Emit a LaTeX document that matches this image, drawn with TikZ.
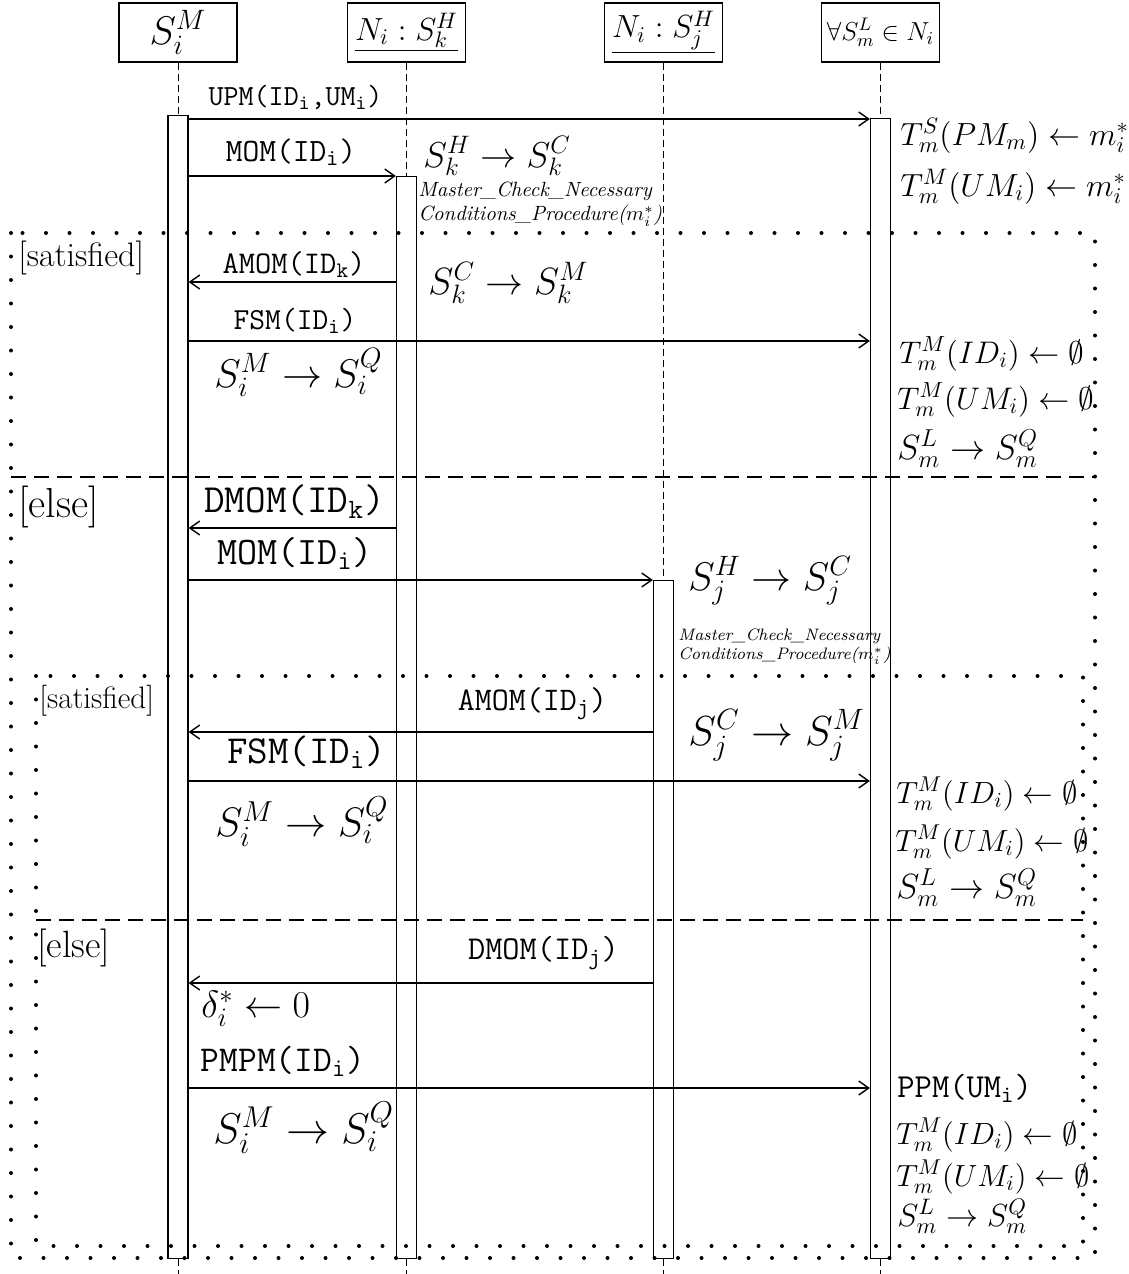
\RequirePackage{fix-cm}
\documentclass[tikz,border=0pt]{standalone}
\usetikzlibrary{arrows.meta}
\newcommand{\fsz}[1]{\fontsize{#1}{#1}\selectfont}

\begin{document}
\begin{tikzpicture}[x=0.5pt, y=-0.5pt,
  hdr/.style={draw, line width=0.6pt, minimum width=59pt, minimum height=29.5pt, inner sep=0pt},
  act/.style={draw, line width=0.6pt, minimum width=10pt, inner sep=0pt, anchor=north},
  life/.style={line width=0.5pt, dash pattern=on 3.5pt off 2pt},
  msg/.style={line width=0.7pt, -{Straight Barb[length=5pt,width=7pt]}},
  msglbl/.style={anchor=base, inner sep=0pt, font=\fsz{#1}\ttfamily},
  note/.style={anchor=base west, inner sep=0pt, font=\fsz{#1}},
  ttnote/.style={anchor=base west, inner sep=0pt, font=\fsz{#1}\ttfamily},
  proc/.style={anchor=north west, inner sep=0pt, align=left},
  frame/.style={line width=2pt, line cap=round, dash pattern=on 0pt off 11.75pt},
  sep/.style={line width=0.6pt, dash pattern=on 7.5pt off 4pt}]
\fill[white] (0,0) rectangle (1129,1274);
\useasboundingbox (0,0) rectangle (1129,1274);
\coordinate (bottom) at (0,1274);

% participants
\node[hdr] (pSi) at (178,32.5) {\fsz{20}$S_i^M$};
\node[hdr] (pSk) at (406.5,32.5) {\fsz{16}$\underline{N_i : S_k^H}$};
\node[hdr] (pSj) at (663.5,32.5) {\fsz{16}$\underline{N_i : S_j^H}$};
\node[hdr] (pSm) at (880.5,32.5) {\fsz{13}$\forall S_m^L \in N_i$};

% activations
\node[act, minimum height=571.5pt] (actSi) at (178,115) {};
\node[act, minimum height=541pt] (actSk) at (406.5,176) {};
\node[act, minimum height=339pt] (actSj) at (663.5,580) {};
\node[act, minimum height=570pt] (actSm) at (880.5,118) {};

\foreach \p/\a in {pSi/actSi,pSk/actSk,pSj/actSj,pSm/actSm}{
  \draw[life] (\p.south) -- (\a.north);
  \draw[life] (\a.south) -- (\a.south |- bottom);
}

% alt frames
\coordinate (outerNW) at (11,233);
\coordinate (outerSE) at (1095,1258);
\coordinate (innerNW) at (36,676);
\coordinate (innerSE) at (1083,1246);
\draw[frame] (outerNW) rectangle (outerSE);
\draw[sep] (outerNW |- 0,477) -- (outerSE |- 0,477);
\draw[frame] (innerNW) rectangle (innerSE);
\draw[sep] (innerNW |- 0,920) -- (innerSE |- 0,920);

\node[note=17] (gSat1) at (18,266) {[satisfied]};
\node[note=21] (gElse1) at (18,517) {[else]};
\node[note=15.5] (gSat2) at (39,708) {[satisfied]};
\node[note=19] (gElse2) at (37,957) {[else]};

% messages
\draw[msg] (actSi.east |- 0,119) -- (actSm.west |- 0,119);
\node[msglbl=14.6] (lUPM) at (295.5,105) {UPM(ID$_\mathtt{i}$,UM$_\mathtt{i}$)};
\draw[msg] (actSi.east |- 0,176) -- (actSk.west |- 0,176);
\node[msglbl=16.3] (lMOM1) at (291,161) {MOM(ID$_\mathtt{i}$)};
\draw[msg] (actSk.west |- 0,282) -- (actSi.east |- 0,282);
\node[msglbl=15.8] (lAMOMk) at (294,273) {AMOM(ID$_\mathtt{k}$)};
\draw[msg] (actSi.east |- 0,341) -- (actSm.west |- 0,341);
\node[msglbl=15.3] (lFSM1) at (295,329) {FSM(ID$_\mathtt{i}$)};
\draw[msg] (actSk.west |- 0,528) -- (actSi.east |- 0,528);
\node[msglbl=20] (lDMOMk) at (294.5,512) {DMOM(ID$_\mathtt{k}$)};
\draw[msg] (actSi.east |- 0,580) -- (actSj.west |- 0,580);
\node[msglbl=19.5] (lMOM2) at (295,564) {MOM(ID$_\mathtt{i}$)};
\draw[msg] (actSj.west |- 0,732) -- (actSi.east |- 0,732);
\node[msglbl=16.5] (lAMOMj) at (532.5,710) {AMOM(ID$_\mathtt{j}$)};
\draw[msg] (actSi.east |- 0,781) -- (actSm.west |- 0,781);
\node[msglbl=19.9] (lFSM2) at (306.5,763) {FSM(ID$_\mathtt{i}$)};
\draw[msg] (actSj.west |- 0,983) -- (actSi.east |- 0,983);
\node[msglbl=16.7] (lDMOMj) at (543.5,959) {DMOM(ID$_\mathtt{j}$)};
\draw[msg] (actSi.east |- 0,1088) -- (actSm.west |- 0,1088);
\node[msglbl=18.2] (lPMPM) at (283,1071) {PMPM(ID$_\mathtt{i}$)};

% state changes
\node[note=16] (tSPM) at (900,145) {$T_m^S(PM_m)\leftarrow m_i^*$};
\node[note=16] (tMUM) at (900,196) {$T_m^M(UM_i)\leftarrow m_i^*$};
\node[note=18] (sKHC) at (423,167) {$S_k^H\rightarrow S_k^C$};
\node[proc, font=\fontsize{10.3}{12}\selectfont\itshape] (chkK) at (418,182) {Master\_Check\_Necessary\\Conditions\_Procedure($m_i^*$)};
\node[note=19] (sKCM) at (428,294) {$S_k^C\rightarrow S_k^M$};
\node[note=20] (sIMQ1) at (214,387) {$S_i^M\rightarrow S_i^Q$};
\node[note=15.6] (tID1) at (899,363) {$T_m^M(ID_i)\leftarrow \emptyset$};
\node[note=15.6] (tUM1) at (897,409) {$T_m^M(UM_i)\leftarrow \emptyset$};
\node[note=17.5] (sMLQ1) at (897,459) {$S_m^L\rightarrow S_m^Q$};

\node[note=20] (sJHC) at (688,590) {$S_j^H\rightarrow S_j^C$};
\node[proc, font=\fontsize{8.3}{9.5}\selectfont\itshape] (chkJ) at (678,628.5) {Master\_Check\_Necessary\\Conditions\_Procedure($m_i^*$)};
\node[note=21] (sJCM) at (688,745) {$S_j^C\rightarrow S_j^M$};
\node[note=20.6] (sIMQ2) at (215,836) {$S_i^M\rightarrow S_i^Q$};
\node[note=15.3] (tID2) at (896,803) {$T_m^M(ID_i)\leftarrow \emptyset$};
\node[note=15.3] (tUM2) at (895,851) {$T_m^M(UM_i)\leftarrow \emptyset$};
\node[note=17.5] (sMLQ2) at (896,898) {$S_m^L\rightarrow S_m^Q$};

\node[note=19] (dlt) at (201,1017) {$\delta_i^*\leftarrow 0$};
\node[note=21.5] (sIMQ3) at (213,1143) {$S_i^M\rightarrow S_i^Q$};
\node[ttnote=16.8] (lPPM) at (897,1097.5) {PPM(UM$_\mathtt{i}$)};
\node[note=15.3] (tID3) at (896,1144) {$T_m^M(ID_i)\leftarrow \emptyset$};
\node[note=15.3] (tUM3) at (896,1186) {$T_m^M(UM_i)\leftarrow \emptyset$};
\node[note=16] (sMLQ3) at (897,1226) {$S_m^L\rightarrow S_m^Q$};
\end{tikzpicture}
\end{document}
